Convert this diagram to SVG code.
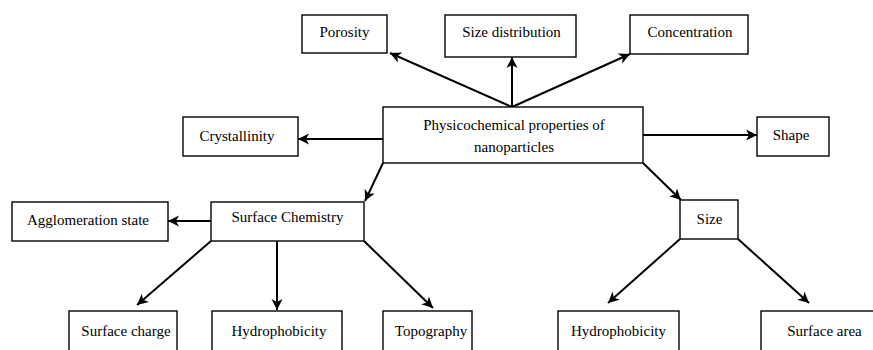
<svg xmlns="http://www.w3.org/2000/svg" width="873" height="350" viewBox="0 0 873 350">
<style>
.box{fill:#fff;stroke:#000;stroke-width:1.4}
.lbl{font-family:"Liberation Serif","Times New Roman",serif;font-size:15px;fill:#000;text-anchor:middle}
.con{stroke:#000;stroke-width:2;fill:none;marker-end:url(#ah)}
</style>
<defs>
<marker id="ah" markerUnits="userSpaceOnUse" markerWidth="12" markerHeight="12" viewBox="0 0 12 12" refX="11" refY="6" orient="auto">
<path d="M0,0.5 L11,6 L0,11.5 L3,6 z" fill="#000"/>
</marker>
</defs>
<rect width="873" height="350" fill="#fff"/>
<g id="connectors">
<line class="con" x1="512" y1="107" x2="390" y2="53"/>
<line class="con" x1="512" y1="107" x2="512" y2="57"/>
<line class="con" x1="512" y1="107" x2="630" y2="54"/>
<line class="con" x1="383" y1="139" x2="298" y2="139"/>
<line class="con" x1="643" y1="135" x2="757" y2="135"/>
<line class="con" x1="383" y1="163" x2="365" y2="201"/>
<line class="con" x1="643" y1="163" x2="681" y2="200"/>
<line class="con" x1="211" y1="221" x2="168" y2="221"/>
<line class="con" x1="211" y1="241" x2="137" y2="305"/>
<line class="con" x1="277" y1="241" x2="277" y2="310"/>
<line class="con" x1="364" y1="241" x2="433" y2="308"/>
<line class="con" x1="680" y1="239" x2="608" y2="303"/>
<line class="con" x1="738" y1="239" x2="809" y2="303"/>
</g>
<g id="porosity"><rect class="box" x="302" y="15" width="85" height="38"/><text class="lbl" x="344.5" y="37">Porosity</text></g>
<g id="size-distribution"><rect class="box" x="445" y="15" width="131" height="42"/><text class="lbl" x="511.5" y="37">Size distribution</text></g>
<g id="concentration"><rect class="box" x="630" y="15" width="118" height="39"/><text class="lbl" x="690" y="37">Concentration</text></g>
<g id="physicochemical"><rect class="box" x="383" y="107" width="260" height="56"/><text class="lbl" x="514" y="130">Physicochemical properties of</text><text class="lbl" x="514" y="152">nanoparticles</text></g>
<g id="crystallinity"><rect class="box" x="183" y="117" width="115" height="39"/><text class="lbl" x="237" y="141">Crystallinity</text></g>
<g id="shape"><rect class="box" x="757" y="117" width="72" height="39"/><text class="lbl" x="791" y="140">Shape</text></g>
<g id="agglomeration"><rect class="box" x="12" y="202" width="156" height="39"/><text class="lbl" x="88" y="225">Agglomeration state</text></g>
<g id="surface-chemistry"><rect class="box" x="211" y="202" width="153" height="39"/><text class="lbl" x="287.5" y="222">Surface Chemistry</text></g>
<g id="size"><rect class="box" x="680" y="200" width="58" height="39"/><text class="lbl" x="709.5" y="224">Size</text></g>
<g id="surface-charge"><rect class="box" x="69" y="311" width="108" height="50"/><text class="lbl" x="126" y="336">Surface charge</text></g>
<g id="hydrophobicity-1"><rect class="box" x="212" y="311" width="130" height="50"/><text class="lbl" x="279" y="336">Hydrophobicity</text></g>
<g id="topography"><rect class="box" x="383" y="311" width="89" height="50"/><text class="lbl" x="431" y="336">Topography</text></g>
<g id="hydrophobicity-2"><rect class="box" x="558" y="311" width="121" height="50"/><text class="lbl" x="618.5" y="336">Hydrophobicity</text></g>
<g id="surface-area"><rect class="box" x="761" y="311" width="120" height="50"/><text class="lbl" x="824.5" y="336">Surface area</text></g>
</svg>
